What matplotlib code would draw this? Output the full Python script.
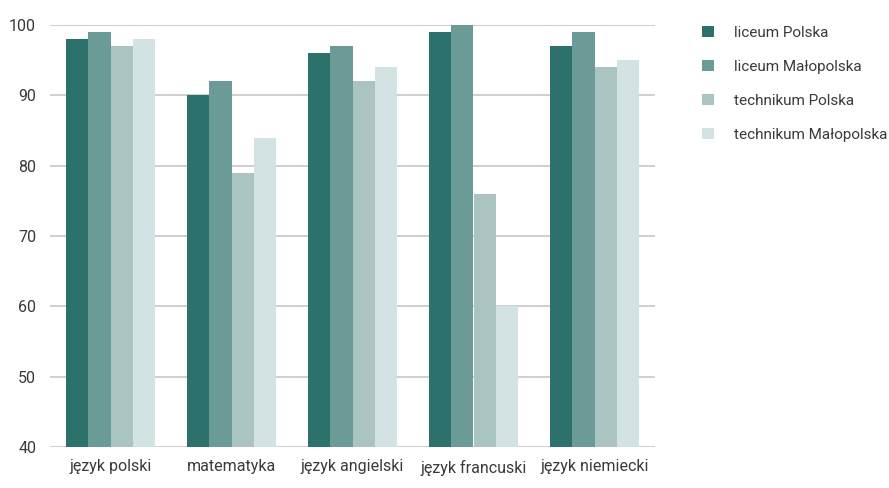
import numpy as np
import matplotlib.pyplot as plt

plt.rcParams['font.family'] = ['Roboto', 'DejaVu Sans']

przedmioty = ['język polski', 'matematyka', 'język angielski', 'język francuski', 'język niemiecki']
serie = ['liceum Polska', 'liceum Małopolska', 'technikum Polska', 'technikum Małopolska']
liceum_pl = [98, 90, 96, 99, 97]
liceum_mp = [99, 92, 97, 100, 99]
technikum_pl = [97, 79, 92, 76, 94]
technikum_mp = [98, 84, 94, 60, 95]
kolory = ['#2d716d', '#6b9b96', '#aac4c1', '#d3e2e2']
yticks = [40, 50, 60, 70, 80, 90, 100]

dane = [liceum_pl, liceum_mp, technikum_pl, technikum_mp]

fig = plt.figure(figsize=(8.89, 4.88), dpi=100)
ax = fig.add_axes([50/889, 1-447/488, 605/889, 422/488])

x = np.arange(len(przedmioty))
w = 0.182
for i, (d, k, s) in enumerate(zip(dane, kolory, serie)):
    ax.bar(x + (i - 1.5)*w, np.array(d) - 40, bottom=40, width=w, color=k, label=s, zorder=3)

ax.set_xlim(-0.5, 4.5)
ax.set_ylim(40, 100)
ax.set_yticks(yticks)
ax.set_xticks(x)
ax.set_xticklabels(przedmioty)
ax.yaxis.grid(True, color='#cccccc', linewidth=1.3, zorder=0)
for sp in ax.spines.values():
    sp.set_visible(False)
ax.tick_params(length=0, labelsize=11.5, colors='#3a3a3a', pad=10)
ax.tick_params(axis='x', pad=9)

leg = fig.legend(loc='upper left', bbox_to_anchor=(688/889, 1-12/488), frameon=False,
                 fontsize=11, handlelength=0.8, handleheight=0.8, labelspacing=1.3,
                 handletextpad=1.3, labelcolor='#3a3a3a')

plt.savefig('out.png', dpi=100)
